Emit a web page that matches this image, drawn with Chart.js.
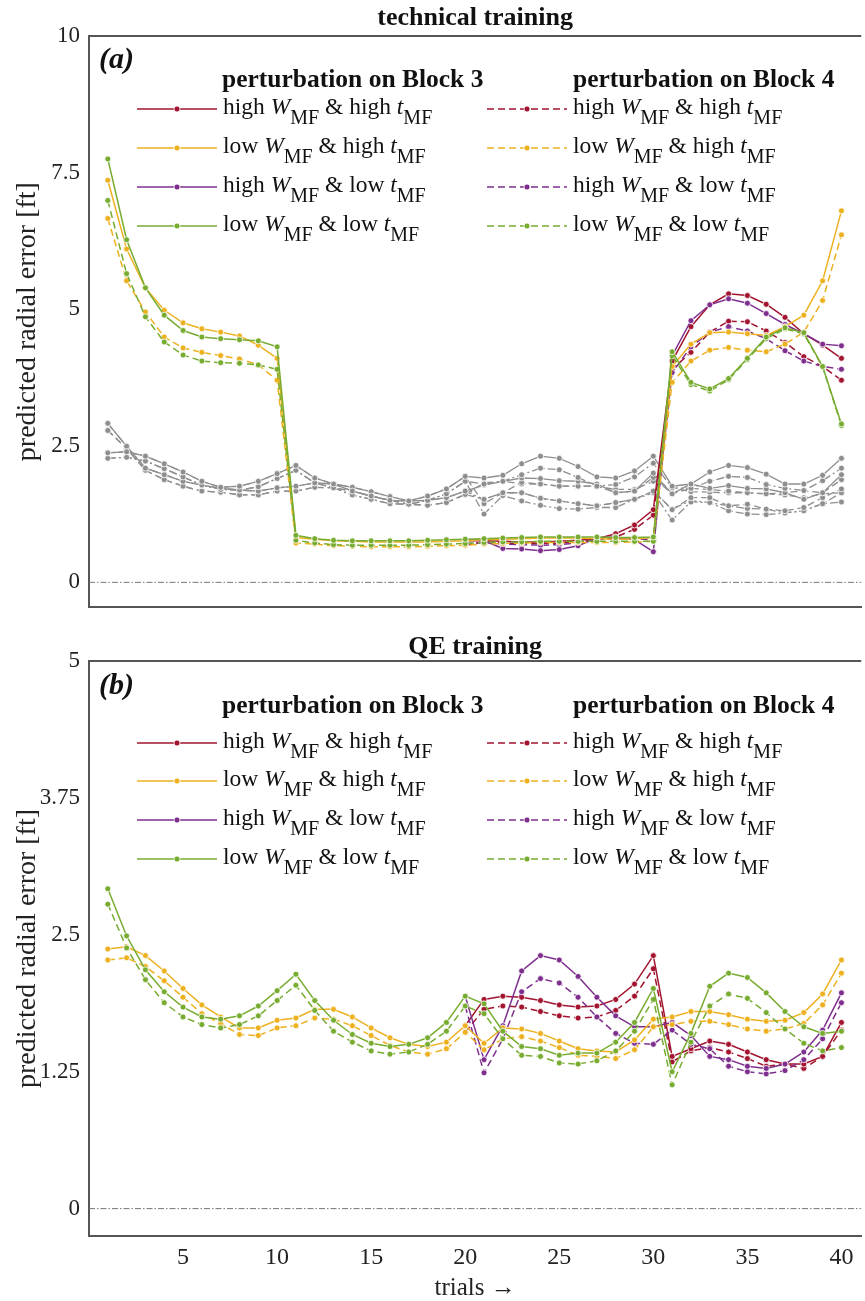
<!DOCTYPE html>
<html>
<head>
<meta charset="utf-8">
<title>predicted radial error</title>
<script src="https://cdn.jsdelivr.net/npm/chart.js@4.4.1/dist/chart.umd.min.js"></script>
<style>
  html, body { margin: 0; padding: 0; background: #fff; }
  #wrap { position: relative; width: 865px; height: 1301px; overflow: hidden; }
  .panel { position: absolute; left: 0; width: 865px; }
  #techBox { top: 0; height: 630px; }
  #qeBox { top: 630px; height: 671px; }
</style>
</head>
<body>
<div id="wrap">
  <div class="panel" id="techBox"><canvas id="techChart"></canvas></div>
  <div class="panel" id="qeBox"><canvas id="qeChart"></canvas></div>
</div>
<script>
// ---------- data ----------
const trials = [1, 2, 3, 4, 5, 6, 7, 8, 9, 10, 11, 12, 13, 14, 15, 16, 17, 18, 19, 20,
  21, 22, 23, 24, 25, 26, 27, 28, 29, 30, 31, 32, 33, 34, 35, 36, 37, 38, 39, 40];
// high-W curves only show up from trial 20 on (before that they sit under the low-W ones)
const lateTrials = trials.slice(19);

const xTicks = [5, 10, 15, 20, 25, 30, 35, 40];
const yTicksTech = [0, 2.5, 5, 7.5, 10];
const yTicksQe = [0, 1.25, 2.5, 3.75, 5];
const legendRows = [["high", "high"], ["low", "high"], ["high", "low"], ["low", "low"]];

// (a) technical training
const techOrangeB3 = [7.36, 6.10, 5.39, 4.98, 4.75, 4.64, 4.58, 4.51, 4.34, 4.10,
  0.82, 0.79, 0.76, 0.75, 0.74, 0.74, 0.74, 0.74, 0.75, 0.76,
  0.78, 0.79, 0.80, 0.81, 0.81, 0.81, 0.80, 0.79, 0.80, 0.82,
  3.95, 4.36, 4.57, 4.58, 4.55, 4.52, 4.68, 4.89, 5.52, 6.80];
const techOrangeB4 = [6.66, 5.52, 4.95, 4.49, 4.29, 4.21, 4.15, 4.09, 3.98, 3.70,
  0.72, 0.70, 0.67, 0.66, 0.65, 0.65, 0.65, 0.66, 0.67, 0.68,
  0.70, 0.71, 0.72, 0.73, 0.73, 0.73, 0.73, 0.73, 0.74, 0.75,
  3.66, 4.05, 4.25, 4.30, 4.25, 4.22, 4.36, 4.58, 5.16, 6.36];
const techGreenB3 = [7.75, 6.27, 5.39, 4.89, 4.61, 4.49, 4.46, 4.44, 4.42, 4.31,
  0.86, 0.80, 0.77, 0.76, 0.76, 0.76, 0.76, 0.77, 0.78, 0.79,
  0.80, 0.81, 0.82, 0.83, 0.83, 0.83, 0.83, 0.82, 0.82, 0.83,
  4.22, 3.66, 3.54, 3.73, 4.10, 4.49, 4.66, 4.57, 3.95, 2.90];
const techGreenB4 = [6.99, 5.65, 4.86, 4.40, 4.16, 4.05, 4.02, 4.01, 3.98, 3.90,
  0.77, 0.72, 0.69, 0.68, 0.68, 0.68, 0.68, 0.69, 0.70, 0.71,
  0.73, 0.74, 0.74, 0.75, 0.75, 0.75, 0.75, 0.75, 0.75, 0.75,
  4.15, 3.62, 3.50, 3.71, 4.08, 4.46, 4.64, 4.55, 3.94, 2.87];
const techRedB3 = [0.76, 0.76, 0.75, 0.74, 0.74, 0.75, 0.77, 0.80, 0.89, 1.05, 1.33,
  4.05, 4.68, 5.08, 5.28, 5.25, 5.09, 4.85, 4.55, 4.34, 4.10];
const techRedB4 = [0.68, 0.74, 0.72, 0.71, 0.71, 0.72, 0.74, 0.78, 0.83, 0.97, 1.23,
  3.90, 4.21, 4.58, 4.78, 4.77, 4.60, 4.39, 4.13, 3.95, 3.70];
const techPurpleB3 = [0.79, 0.76, 0.62, 0.61, 0.58, 0.60, 0.67, 0.81, 0.83, 0.78, 0.56,
  4.15, 4.79, 5.08, 5.19, 5.11, 4.92, 4.72, 4.55, 4.36, 4.33];
const techPurpleB4 = [0.71, 0.73, 0.70, 0.69, 0.68, 0.69, 0.72, 0.78, 0.80, 0.80, 0.78,
  3.84, 4.31, 4.58, 4.68, 4.60, 4.46, 4.24, 4.05, 3.95, 3.90];

// grey reference curves in (a)
const techGray1 = [2.37, 2.39, 2.31, 2.17, 2.02, 1.85, 1.74, 1.76, 1.85, 1.99, 2.14, 1.91, 1.80, 1.67, 1.58, 1.50, 1.49, 1.58, 1.71, 1.94,
  1.91, 1.96, 2.17, 2.31, 2.27, 2.12, 1.93, 1.91, 2.04, 2.31, 1.76, 1.80, 2.02, 2.14, 2.10, 1.98, 1.80, 1.80, 1.96, 2.27];
const techGray2 = [2.27, 2.29, 2.22, 2.08, 1.93, 1.78, 1.70, 1.69, 1.75, 1.90, 2.05, 1.82, 1.73, 1.60, 1.52, 1.44, 1.43, 1.50, 1.62, 1.85,
  1.80, 1.85, 1.97, 2.09, 2.06, 1.92, 1.76, 1.79, 1.93, 2.18, 1.73, 1.72, 1.85, 1.94, 1.92, 1.79, 1.72, 1.68, 1.86, 2.09];
const techGray3 = [2.91, 2.49, 2.09, 1.97, 1.85, 1.78, 1.72, 1.69, 1.67, 1.73, 1.76, 1.82, 1.80, 1.74, 1.66, 1.57, 1.49, 1.50, 1.55, 1.67,
  1.78, 1.85, 1.91, 1.90, 1.86, 1.85, 1.80, 1.64, 1.67, 2.00, 1.62, 1.80, 1.72, 1.77, 1.72, 1.71, 1.64, 1.52, 1.64, 1.97];
const techGray4 = [2.78, 2.45, 2.05, 1.88, 1.76, 1.67, 1.65, 1.60, 1.60, 1.67, 1.67, 1.74, 1.73, 1.67, 1.58, 1.50, 1.43, 1.41, 1.46, 1.61,
  1.52, 1.64, 1.83, 1.80, 1.76, 1.76, 1.76, 1.64, 1.67, 1.92, 1.62, 1.72, 1.70, 1.67, 1.64, 1.62, 1.64, 1.68, 1.64, 1.88];
const techGray5 = [2.37, 2.39, 2.31, 2.17, 2.02, 1.85, 1.74, 1.76, 1.85, 1.99, 2.14, 1.91, 1.80, 1.67, 1.58, 1.50, 1.49, 1.58, 1.71, 1.94,
  1.44, 1.64, 1.64, 1.54, 1.49, 1.44, 1.40, 1.46, 1.52, 1.67, 1.33, 1.55, 1.55, 1.40, 1.43, 1.34, 1.31, 1.37, 1.55, 1.71];
const techGray6 = [2.27, 2.29, 2.22, 2.08, 1.93, 1.78, 1.70, 1.69, 1.75, 1.90, 2.05, 1.82, 1.73, 1.60, 1.52, 1.44, 1.43, 1.50, 1.62, 1.85,
  1.25, 1.59, 1.49, 1.41, 1.35, 1.34, 1.37, 1.37, 1.52, 1.64, 1.14, 1.47, 1.46, 1.31, 1.25, 1.24, 1.27, 1.31, 1.44, 1.47];
const techGray7 = [2.91, 2.49, 2.09, 1.97, 1.85, 1.78, 1.72, 1.69, 1.67, 1.73, 1.76, 1.82, 1.80, 1.74, 1.66, 1.57, 1.49, 1.50, 1.55, 1.67,
  1.52, 1.64, 1.64, 1.54, 1.49, 1.44, 1.40, 1.46, 1.52, 1.67, 1.34, 1.50, 1.46, 1.40, 1.35, 1.34, 1.27, 1.31, 1.44, 1.64];
const techGray8 = [2.78, 2.45, 2.05, 1.88, 1.76, 1.67, 1.65, 1.60, 1.60, 1.67, 1.67, 1.74, 1.73, 1.67, 1.58, 1.50, 1.43, 1.41, 1.46, 1.61,
  1.82, 1.85, 1.80, 1.80, 1.76, 1.76, 1.76, 1.70, 1.70, 1.85, 1.73, 1.66, 1.65, 1.64, 1.64, 1.62, 1.60, 1.55, 1.62, 1.64];

// (b) QE training
const qeOrangeB3 = [2.37, 2.39, 2.31, 2.17, 2.01, 1.86, 1.75, 1.65, 1.65, 1.72, 1.74, 1.82, 1.82, 1.75, 1.65, 1.56, 1.50, 1.48, 1.52, 1.67,
  1.51, 1.65, 1.64, 1.60, 1.53, 1.46, 1.44, 1.43, 1.54, 1.73, 1.75, 1.80, 1.80, 1.77, 1.73, 1.71, 1.72, 1.79, 1.96, 2.27];
const qeOrangeB4 = [2.27, 2.29, 2.21, 2.08, 1.93, 1.78, 1.69, 1.59, 1.58, 1.65, 1.67, 1.74, 1.73, 1.67, 1.58, 1.49, 1.43, 1.41, 1.46, 1.61,
  1.45, 1.55, 1.57, 1.53, 1.47, 1.40, 1.39, 1.37, 1.45, 1.66, 1.68, 1.71, 1.71, 1.68, 1.64, 1.62, 1.64, 1.69, 1.86, 2.15];
const qeGreenB3 = [2.92, 2.49, 2.18, 1.98, 1.84, 1.75, 1.73, 1.76, 1.85, 1.99, 2.14, 1.90, 1.72, 1.59, 1.51, 1.48, 1.50, 1.56, 1.70, 1.94,
  1.87, 1.62, 1.48, 1.46, 1.40, 1.42, 1.42, 1.52, 1.70, 2.01, 1.25, 1.60, 2.03, 2.15, 2.11, 1.97, 1.80, 1.66, 1.60, 1.62];
const qeGreenB4 = [2.78, 2.38, 2.09, 1.88, 1.75, 1.68, 1.65, 1.68, 1.76, 1.90, 2.04, 1.81, 1.62, 1.52, 1.44, 1.41, 1.43, 1.50, 1.62, 1.85,
  1.78, 1.55, 1.40, 1.39, 1.33, 1.32, 1.35, 1.44, 1.62, 1.91, 1.13, 1.52, 1.85, 1.96, 1.92, 1.79, 1.64, 1.51, 1.44, 1.47];
const qeRedB3 = [1.67, 1.91, 1.94, 1.93, 1.90, 1.86, 1.84, 1.85, 1.91, 2.05, 2.31,
  1.39, 1.46, 1.53, 1.50, 1.43, 1.36, 1.32, 1.32, 1.39, 1.70];
const qeRedB4 = [1.61, 1.82, 1.85, 1.84, 1.80, 1.76, 1.74, 1.75, 1.81, 1.94, 2.19,
  1.34, 1.44, 1.47, 1.43, 1.37, 1.30, 1.32, 1.28, 1.39, 1.63];
const qePurpleB3 = [1.94, 1.36, 1.67, 2.17, 2.31, 2.27, 2.12, 1.93, 1.76, 1.66, 1.66,
  1.70, 1.58, 1.39, 1.36, 1.30, 1.28, 1.32, 1.43, 1.63, 1.97];
const qePurpleB4 = [1.85, 1.24, 1.55, 1.98, 2.10, 2.06, 1.93, 1.75, 1.60, 1.51, 1.50,
  1.63, 1.50, 1.46, 1.30, 1.25, 1.23, 1.26, 1.36, 1.55, 1.88];

// ---------- styling ----------
const FONT = "'Liberation Serif', 'Times New Roman', serif";
const RED = "#A2142F", ORANGE = "#EDB120", PURPLE = "#7E2F8E", GREEN = "#77AC30", GRAY = "#8E8E8E";
const SOLID = [], DASH = [7, 4], DASHDOT = [8, 3, 2, 3];

function pts(xs, ys) { return xs.map((x, i) => ({ x: x, y: ys[i] })); }

function series(label, xs, ys, color, dash, slot) {
  return {
    label: label, data: pts(xs, ys), legendSlot: slot,
    borderColor: color, backgroundColor: color, borderDash: dash,
    borderWidth: color === GRAY ? 1.3 : 1.5, tension: 0,
    pointRadius: 3, pointHoverRadius: 3, pointBackgroundColor: color,
    pointBorderColor: "#fff", pointBorderWidth: 0.8
  };
}

function coloredSets(o3, o4, g3, g4, r3, r4, p3, p4) {
  return [
    series("low W & low t, Block 3", trials, g3, GREEN, SOLID, { col: 0, row: 3 }),
    series("low W & low t, Block 4", trials, g4, GREEN, DASH, { col: 1, row: 3 }),
    series("low W & high t, Block 3", trials, o3, ORANGE, SOLID, { col: 0, row: 1 }),
    series("low W & high t, Block 4", trials, o4, ORANGE, DASH, { col: 1, row: 1 }),
    series("high W & low t, Block 3", lateTrials, p3, PURPLE, SOLID, { col: 0, row: 2 }),
    series("high W & low t, Block 4", lateTrials, p4, PURPLE, DASH, { col: 1, row: 2 }),
    series("high W & high t, Block 3", lateTrials, r3, RED, SOLID, { col: 0, row: 0 }),
    series("high W & high t, Block 4", lateTrials, r4, RED, DASH, { col: 1, row: 0 })
  ];
}

// legend label with italic symbol and "MF" subscript
function drawLegendLabel(ctx, x, y, w, t) {
  const parts = [[w + " ", "n"], ["W", "i"], ["MF", "s"], [" & " + t + " ", "n"], ["t", "i"], ["MF", "s"]];
  parts.forEach(([s, kind]) => {
    ctx.font = (kind === "i" ? "italic " : "") + (kind === "s" ? "20px " : "23.5px ") + FONT;
    ctx.fillText(s, x, kind === "s" ? y + 10 : y);
    x += ctx.measureText(s).width;
  });
}

const panelDecor = {
  id: "panelDecor",
  beforeDatasetsDraw(chart) {
    const { ctx, chartArea: a, scales: { y } } = chart;
    const y0 = y.getPixelForValue(0);
    ctx.save();
    ctx.strokeStyle = "#777"; ctx.lineWidth = 1; ctx.setLineDash([6, 2, 1.5, 2]);
    ctx.beginPath(); ctx.moveTo(a.left, y0); ctx.lineTo(a.right, y0); ctx.stroke();
    ctx.restore();
  },
  afterDraw(chart, args, opts) {
    const { ctx, chartArea: a } = chart;
    ctx.save();
    // top frame
    ctx.strokeStyle = "#555"; ctx.lineWidth = 2;
    ctx.beginPath(); ctx.moveTo(a.left, a.top); ctx.lineTo(a.right, a.top); ctx.stroke();
    // panel letter
    ctx.fillStyle = "#111";
    ctx.textBaseline = "middle";
    ctx.font = "italic bold 30px " + FONT;
    ctx.fillText("(" + opts.letter + ")", 99, opts.letterY);
    // column headers
    ctx.textBaseline = "alphabetic";
    ctx.font = "bold 25.5px " + FONT;
    ctx.fillText("perturbation on Block 3", 222, opts.headerY);
    ctx.fillText("perturbation on Block 4", 573, opts.headerY);
    // entries
    chart.data.datasets.forEach(ds => {
      if (!ds.legendSlot) return;
      const { col, row } = ds.legendSlot;
      const x0 = col ? 487 : 137, x1 = x0 + 80, ly = opts.rowY[row];
      ctx.strokeStyle = ds.borderColor; ctx.lineWidth = ds.borderWidth;
      ctx.setLineDash(ds.borderDash);
      ctx.beginPath(); ctx.moveTo(x0, ly); ctx.lineTo(x1, ly); ctx.stroke();
      ctx.setLineDash([]);
      ctx.beginPath(); ctx.arc((x0 + x1) / 2, ly, 3, 0, Math.PI * 2);
      ctx.fillStyle = ds.borderColor; ctx.fill();
      ctx.strokeStyle = "#fff"; ctx.lineWidth = 0.8; ctx.stroke();
      ctx.fillStyle = "#111";
      const [w, t] = legendRows[row];
      drawLegendLabel(ctx, x1 + 6, ly + 5, w, t);
    });
    ctx.restore();
  }
};

function yAxis(min, max, ticks) {
  return {
    type: "linear", min: min, max: max,
    afterBuildTicks: s => { s.ticks = ticks.map(v => ({ value: v })); },
    afterFit: s => { s.width = 89; },
    grid: { display: false, drawTicks: false },
    border: { display: true, color: "#555", width: 2 },
    ticks: { color: "#222", padding: 9, callback: v => String(v), font: { family: FONT, size: 23 } },
    title: { display: true, text: "predicted radial error [ft]", color: "#222",
      font: { family: FONT, size: 28 }, padding: { top: 11, bottom: 0 } }
  };
}

function xAxis(showLabels, height) {
  return {
    type: "linear", min: 0, max: 41.05,
    afterBuildTicks: s => { s.ticks = xTicks.map(v => ({ value: v })); },
    afterFit: s => { s.height = height; },
    grid: { display: false, drawTicks: false },
    border: { display: true, color: "#555", width: 2 },
    ticks: { display: showLabels, color: "#222", padding: 7, maxRotation: 0, autoSkip: false,
      font: { family: FONT, size: 24 } },
    title: { display: showLabels, text: "trials \u2192", color: "#222",
      font: { family: FONT, size: 25, lineHeight: 1 }, padding: { top: 0, bottom: 0 } }
  };
}

function baseOptions(title, titlePad, xCfg, yCfg, decor) {
  return {
    responsive: true, maintainAspectRatio: false, animation: false,
    layout: { padding: 0 },
    plugins: {
      legend: { display: false }, tooltip: { enabled: false },
      title: { display: true, text: title, fullSize: false, color: "#111",
        font: { family: FONT, size: 26, weight: "bold", lineHeight: 1 }, padding: titlePad },
      panelDecor: decor
    },
    scales: { x: xCfg, y: yCfg }
  };
}

// ---------- (a) technical training ----------
const techSets = coloredSets(techOrangeB3, techOrangeB4, techGreenB3, techGreenB4,
  techRedB3, techRedB4, techPurpleB3, techPurpleB4).concat([
  series("grey 1", trials, techGray1, GRAY, SOLID),
  series("grey 2", trials, techGray2, GRAY, DASHDOT),
  series("grey 3", trials, techGray3, GRAY, SOLID),
  series("grey 4", trials, techGray4, GRAY, DASH),
  series("grey 5", trials, techGray5, GRAY, DASH),
  series("grey 6", trials, techGray6, GRAY, DASHDOT),
  series("grey 7", trials, techGray7, GRAY, DASHDOT),
  series("grey 8", trials, techGray8, GRAY, DASH)
]);

new Chart(document.getElementById("techChart"), {
  type: "line",
  data: { datasets: techSets },
  options: baseOptions("technical training", { top: 5, bottom: 5 },
    xAxis(false, 20), yAxis(-0.455, 10, yTicksTech),
    { letter: "a", letterY: 60, headerY: 87, rowY: [109, 148, 187, 226] }),
  plugins: [panelDecor]
});

// ---------- (b) QE training ----------
const qeSets = coloredSets(qeOrangeB3, qeOrangeB4, qeGreenB3, qeGreenB4,
  qeRedB3, qeRedB4, qePurpleB3, qePurpleB4);

new Chart(document.getElementById("qeChart"), {
  type: "line",
  data: { datasets: qeSets },
  options: baseOptions("QE training", { top: 4, bottom: 1 },
    xAxis(true, 65), yAxis(-0.25, 5, yTicksQe),
    { letter: "b", letterY: 56, headerY: 83, rowY: [113, 151, 190, 229] }),
  plugins: [panelDecor]
});
</script>
</body>
</html>
